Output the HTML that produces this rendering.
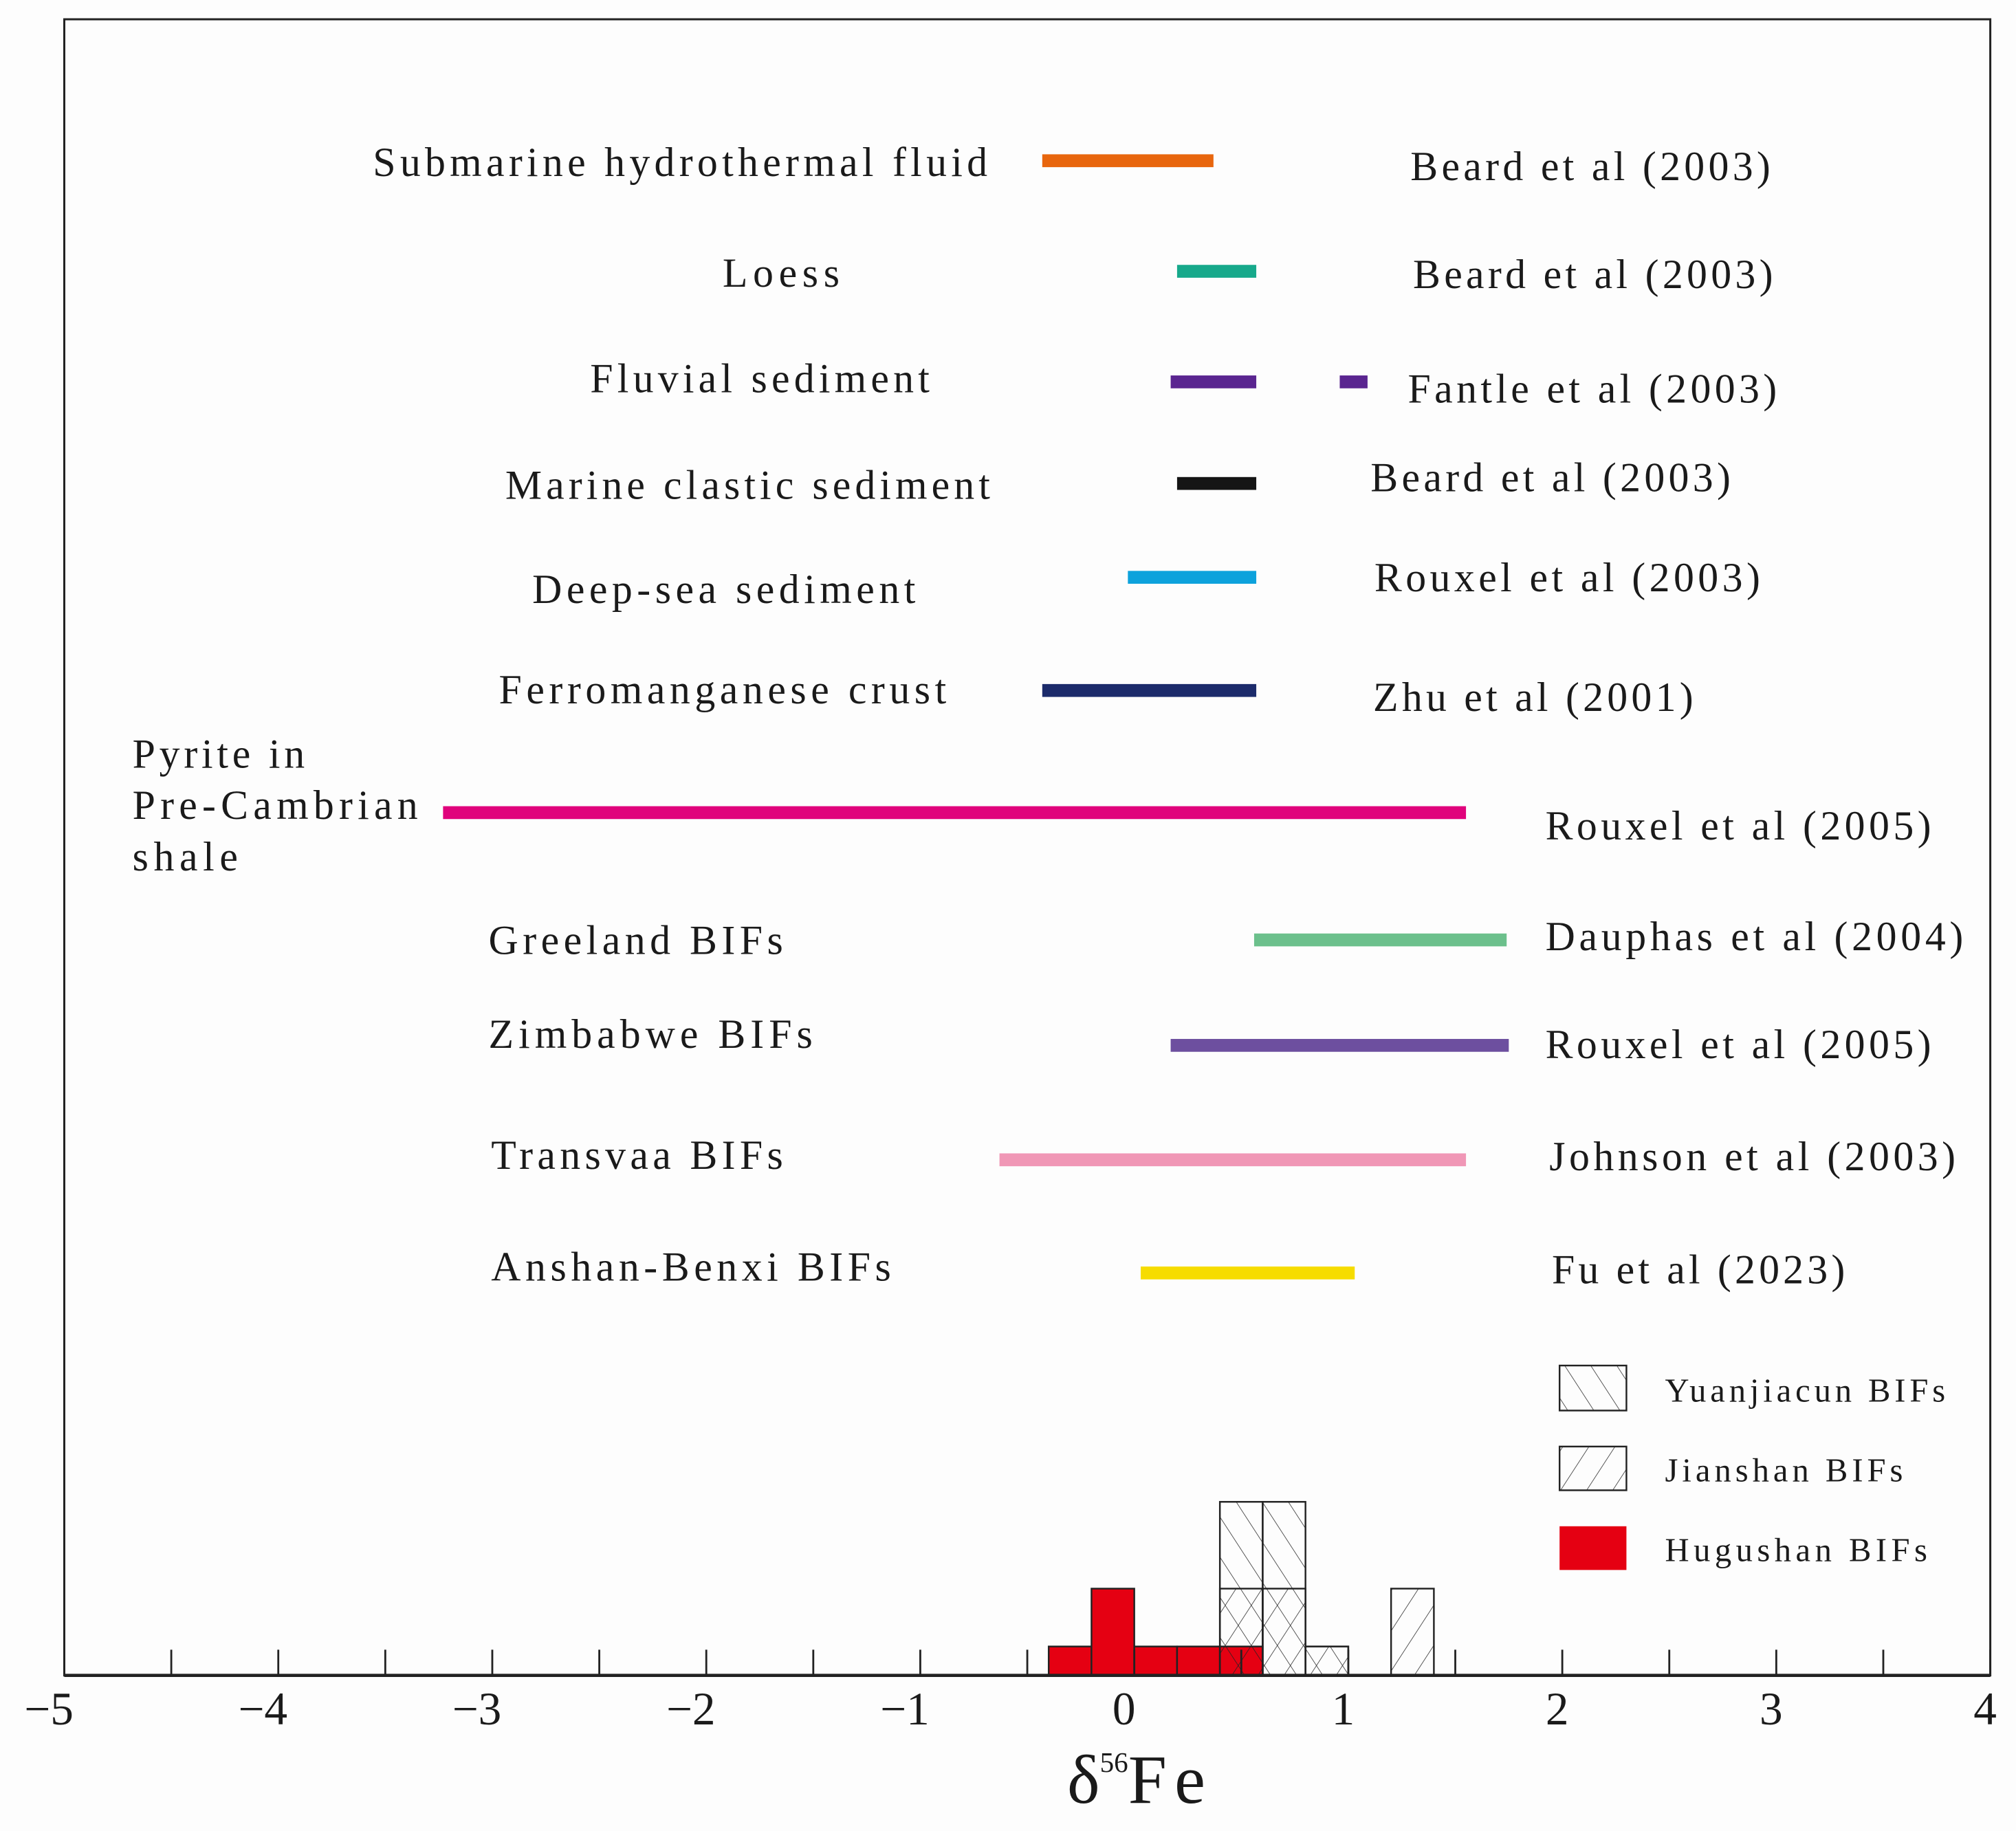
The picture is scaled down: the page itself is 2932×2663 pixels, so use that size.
<!DOCTYPE html>
<html><head><meta charset="utf-8">
<style>
html,body{margin:0;padding:0;background:#fdfdfd;}
svg{display:block;}
text{font-family:"Liberation Serif",serif;fill:#1a1a1a;}
</style></head>
<body>
<svg id="chart" width="2932" height="2663" viewBox="0 0 1568 1424" preserveAspectRatio="none" xmlns="http://www.w3.org/2000/svg">
<defs>
<pattern id="pat-yuan" patternUnits="userSpaceOnUse" width="17" height="17" patternTransform="rotate(-33)">
<line x1="0" y1="0" x2="0" y2="17" stroke="#222" stroke-width="0.8"/>
</pattern>
<pattern id="pat-jian" patternUnits="userSpaceOnUse" width="17" height="17" patternTransform="rotate(33)">
<line x1="0" y1="0" x2="0" y2="17" stroke="#222" stroke-width="0.8"/>
</pattern>
</defs>
<rect x="0" y="0" width="1568" height="1424" fill="#fdfdfd"/>
<g id="plot"></g>
</svg>
<script>
const rangeNames = ["Submarine hydrothermal fluid","Loess","Fluvial sediment","Fluvial sediment 2","Marine clastic sediment","Deep-sea sediment","Ferromanganese crust","Pyrite in Pre-Cambrian shale","Greeland BIFs","Zimbabwe BIFs","Transvaa BIFs","Anshan-Benxi BIFs"];
const rangeMin = [-0.43,0.20,0.17,0.96,0.20,-0.03,-0.43,-3.23,0.56,0.17,-0.63,0.03];
const rangeMax = [0.37,0.57,0.57,1.09,0.57,0.57,0.57,1.55,1.74,1.75,1.55,1.03];
const rangeColors = ["#e8660e","#17a98b","#5a2590","#5a2590","#151515","#0da2dc","#1c2b6b","#e0037c","#6cc08c","#6d4f9f","#f097b6","#f6dc00"];
const rangeRowY = [125,211,297,297,376,449,537,632,731,813,902,990];
const binStarts = [-0.4,-0.2,0,0.2,0.4,0.6,0.8,1.0,1.2];
const hugushanCounts = [1,3,1,1,1,0,0,0,0];
const jianshanCounts = [0,0,0,0,3,3,1,0,3];
const yuanjiacunCounts = [0,0,0,0,6,6,1,0,0];
const binWidth = 0.2;
const xTicksMajor = [-5,-4,-3,-2,-1,0,1,2,3,4];
const xTickLabels = ["\u22125","\u22124","\u22123","\u22122","\u22121","0","1","2","3","4"];
const xTicksMinor = [-4.5,-3.5,-2.5,-1.5,-0.5,0.5,1.5,2.5,3.5];

const NS="http://www.w3.org/2000/svg";
const g=document.getElementById('plot');
const L=50,R=1548,T=15,B=1303,UNIT=22.5;
const x=v=>L+(v+5)*(R-L)/9;
const y=c=>B-c*UNIT;
function mk(tag,attrs,parent){const e=document.createElementNS(NS,tag);for(const k in attrs)e.setAttribute(k,attrs[k]);(parent||g).appendChild(e);return e;}

let fr=mk('rect',{x:L,y:T,width:R-L,height:B-T,fill:'none',stroke:'#222','stroke-width':1.6});



rangeNames.forEach((n,i)=>{
  const r=mk('rect',{x:x(rangeMin[i]),y:rangeRowY[i]-5,width:x(rangeMax[i])-x(rangeMin[i]),height:10,fill:rangeColors[i]});
  
  
});

function hist(counts,fill,name){
  counts.forEach((c,i)=>{
    if(!c)return;
    const r=mk('rect',{x:x(binStarts[i]),y:y(c),width:x(binStarts[i]+binWidth)-x(binStarts[i]),height:c*UNIT,fill:fill,stroke:'#222','stroke-width':1.3});
    
    
  });
}
hist(hugushanCounts,'#e50012','hugushan');
hist(yuanjiacunCounts,'url(#pat-yuan)','yuanjiacun');
hist(jianshanCounts,'url(#pat-jian)','jianshan');

let ax=mk('line',{x1:L,y1:B,x2:R,y2:B,stroke:'#222','stroke-width':2.5});


xTicksMajor.forEach((v,i)=>{
  const t=mk('line',{x1:x(v),y1:B,x2:x(v),y2:B-20,stroke:'#222','stroke-width':1.5});
  
  
  const tl=mk('text',{x:x(v)-(v<0?12:(v===0?8:4)),y:B+38,'font-size':36,'text-anchor':'middle'});
  tl.textContent=xTickLabels[i];
  
  
});
xTicksMinor.forEach(v=>{
  const t=mk('line',{x1:x(v),y1:B,x2:x(v),y2:B-20,stroke:'#222','stroke-width':1.5});
  
  
});
</script>
<svg style="position:absolute;left:0;top:0" width="2932" height="2663" viewBox="0 0 1568 1424" preserveAspectRatio="none" xmlns="http://www.w3.org/2000/svg">
<g font-size="32">
<text x="290" y="137" textLength="478">Submarine hydrothermal fluid</text>
<text x="562" y="223" textLength="91">Loess</text>
<text x="459" y="305" textLength="264">Fluvial sediment</text>
<text x="393" y="388" textLength="377">Marine clastic sediment</text>
<text x="414" y="469" textLength="298">Deep-sea sediment</text>
<text x="388" y="547" textLength="348">Ferromanganese crust</text>
<text x="103" y="597" textLength="134">Pyrite in</text>
<text x="103" y="637" textLength="222">Pre-Cambrian</text>
<text x="103" y="677" textLength="82">shale</text>
<text x="380" y="742" textLength="229">Greeland BIFs</text>
<text x="380" y="815" textLength="252">Zimbabwe BIFs</text>
<text x="382" y="909" textLength="227">Transvaa BIFs</text>
<text x="382" y="996" textLength="311">Anshan-Benxi BIFs</text>
<text x="1097" y="140" textLength="280">Beard et al (2003)</text>
<text x="1099" y="224" textLength="280">Beard et al (2003)</text>
<text x="1095" y="313" textLength="287">Fantle et al (2003)</text>
<text x="1066" y="382" textLength="280">Beard et al (2003)</text>
<text x="1069" y="460" textLength="300">Rouxel et al (2003)</text>
<text x="1068" y="553" textLength="249">Zhu et al (2001)</text>
<text x="1202" y="653" textLength="300">Rouxel et al (2005)</text>
<text x="1202" y="739" textLength="325">Dauphas et al (2004)</text>
<text x="1202" y="823" textLength="300">Rouxel et al (2005)</text>
<text x="1205" y="910" textLength="316">Johnson et al (2003)</text>
<text x="1207" y="998" textLength="228">Fu et al (2023)</text>
</g>
<g>
<rect x="1213" y="1062" width="52" height="35" fill="url(#pat-yuan)" stroke="#222" stroke-width="1.3"/>
<rect x="1213" y="1125" width="52" height="34" fill="url(#pat-jian)" stroke="#222" stroke-width="1.3"/>
<rect x="1213" y="1187" width="52" height="34" fill="#e50012"/>
<text x="1295" y="1090" font-size="26" textLength="218">Yuanjiacun BIFs</text>
<text x="1295" y="1152" font-size="26" textLength="185">Jianshan BIFs</text>
<text x="1295" y="1214" font-size="26" textLength="204">Hugushan BIFs</text>
</g>
<text x="830" y="1402" font-size="54">δ<tspan font-size="22" dy="-24">56</tspan><tspan dy="24" textLength="60">Fe</tspan></text>
</svg>
</body></html>
